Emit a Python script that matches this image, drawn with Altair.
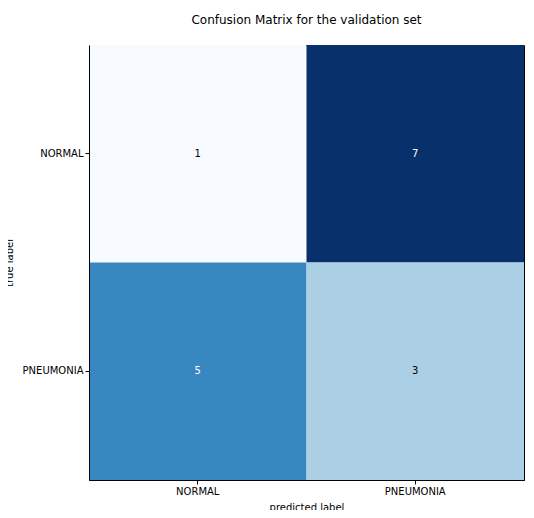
import altair as alt
import pandas as pd

# --- confusion matrix data ---
true_labels = ['NORMAL', 'NORMAL', 'PNEUMONIA', 'PNEUMONIA']
pred_labels = ['NORMAL', 'PNEUMONIA', 'NORMAL', 'PNEUMONIA']
counts = [1, 7, 5, 3]
classes = ['NORMAL', 'PNEUMONIA']

df = pd.DataFrame({'true': true_labels, 'pred': pred_labels, 'count': counts})

font = 'DejaVu Sans'

base = alt.Chart(df).encode(
    x=alt.X('pred:N', sort=classes, title='predicted label',
            scale=alt.Scale(paddingInner=0, paddingOuter=0),
            axis=alt.Axis(labelAngle=0, tickSize=4, domainColor='black', tickColor='black',
                          labelColor='black', labelFontSize=10, labelFont=font,
                          titleFont=font, titleFontSize=10, titleFontWeight='normal',
                          titleColor='black', titlePadding=6)),
    y=alt.Y('true:N', sort=classes, title='true label',
            scale=alt.Scale(paddingInner=0, paddingOuter=0),
            axis=alt.Axis(tickSize=4, domainColor='black', tickColor='black',
                          labelColor='black', labelFontSize=10, labelFont=font,
                          titleFont=font, titleFontSize=10, titleFontWeight='normal',
                          titleColor='black', titlePadding=8)),
)

heat = base.mark_rect().encode(
    color=alt.Color('count:Q', legend=None,
                    scale=alt.Scale(domain=[1, 3, 5, 7],
                                    range=['#f7fbff', '#abd0e6', '#3787c0', '#08306b']))
)

labels = base.mark_text(font=font, fontSize=10).encode(
    text='count:Q',
    color=alt.condition(alt.datum['count'] > 3.5, alt.value('white'), alt.value('black'))
)

chart = (heat + labels).properties(
    width=435, height=435,
    autosize=alt.AutoSizeParams(type='none'),
    padding={'left': 81, 'top': 37, 'right': 2, 'bottom': 30},
    title=alt.TitleParams('Confusion Matrix for the validation set', font=font,
                          fontSize=12, fontWeight='normal', color='black', offset=18)
).configure_view(stroke='black', strokeWidth=1)

chart.save("out.html", embed_options={"renderer": "svg", "actions": False})
